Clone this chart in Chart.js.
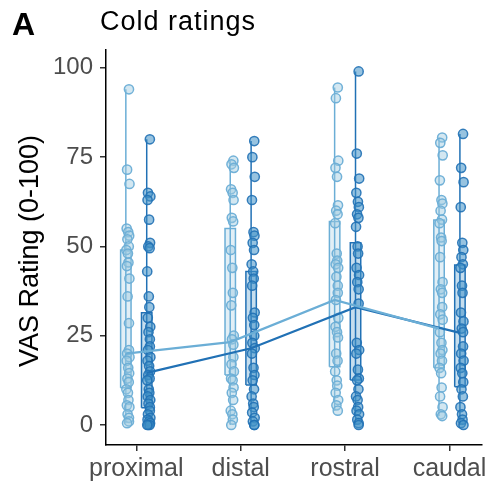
<!DOCTYPE html>
<html lang="en">
<head>
    <meta charset="UTF-8">
    <title>Cold ratings</title>
    <script src="https://cdn.jsdelivr.net/npm/chart.js"></script>
    <style>
        body {
            margin: 0;
            background: #ffffff;
        }
        #wrap {
            width: 490px;
            height: 490px;
        }
    </style>
</head>
<body>
    <div id="wrap">
        <canvas id="coldChart" width="490" height="490"></canvas>
    </div>

    <script>
        // categories and tick labels
        const regions = ["proximal", "distal", "rostral", "caudal"];
        const yTicks = [0, 25, 50, 75, 100];

        // raw ratings, light series (one list per region)
        const lightProximal = [94, 71.5, 67.5, 55, 54, 53, 52, 50, 49, 48, 45.5, 44.5, 41, 36, 28.5, 21, 20, 19, 18, 16, 14.5, 13, 12, 10, 9, 7, 5.5, 5, 3, 2, 1, 0.5];
        const lightDistal = [74, 73, 72, 66, 65, 63, 58, 57, 49, 44, 37, 33.5, 25, 24, 22.5, 19, 17, 15, 13, 12.5, 10.5, 9, 7, 4, 3, 1.5, 0];
        const lightRostral = [94.5, 91.5, 74, 72, 69.5, 61.5, 60, 59, 56.5, 48, 46, 45, 44, 41.5, 39, 37, 35, 30, 27.5, 26, 24.5, 20, 18, 15, 12.5, 11, 9, 7, 5.5, 4];
        const lightCaudal = [80.5, 79, 75.5, 68.5, 63, 62, 60, 57.5, 56.5, 52.5, 51.5, 47, 40, 38, 37, 33, 31, 29.5, 26, 23, 21, 20, 18, 16, 14.5, 10.5, 8, 5, 3, 2.5];

        // raw ratings, dark series
        const darkProximal = [80, 65, 64, 63, 57.5, 51, 50, 49.5, 43, 36, 33, 30, 27.5, 26, 24, 22, 21, 19, 18, 16.5, 15, 14, 13, 12.5, 10, 9, 8, 7, 6, 5, 4, 3, 2, 1.5, 1, 0.5, 0, 0, 0];
        const darkDistal = [79.5, 75, 69.5, 63, 54, 53, 51, 49, 45, 43, 41, 39, 31.5, 30, 28, 25, 23, 21.5, 20, 16, 14, 12.5, 10, 8, 6, 5, 3.5, 2, 1, 0, 0];
        const darkRostral = [99, 76, 69, 65, 62.5, 61, 59, 58, 55.5, 50, 48, 44, 42, 40, 38, 34, 23, 21, 20, 15.5, 13, 12.5, 10, 8, 7, 5, 4, 3, 1.5, 0.5, 0];
        const darkCaudal = [81.5, 72, 68, 61, 51, 49, 47, 45, 44, 39, 37, 31.5, 29, 27, 26, 22, 20, 18, 16, 14.5, 12, 10, 8, 5, 3, 1.5, 0.5, 0];

        // box statistics per region
        const lightLow = [0.5, 0, 4, 2.5];
        const lightQ1 = [10.4, 14, 16.3, 16];
        const lightMedian = [20, 23.2, 35, 27];
        const lightQ3 = [49, 55, 57, 57.4];
        const lightHigh = [94, 74, 94.5, 80.5];

        const darkLow = [0, 0, 0, 0];
        const darkQ1 = [4.8, 11.2, 12.6, 10.7];
        const darkMedian = [14.6, 21.5, 33, 25.8];
        const darkQ3 = [31.4, 43, 51, 44.8];
        const darkHigh = [80, 79.5, 99, 81.5];

        // small fixed horizontal jitter for the dots
        const jitter = [0.01, -0.008, 0.015, -0.012, 0.003, 0.012, -0.005, 0.008, -0.015, 0.0, 0.005, -0.01, 0.014, -0.003, 0.01];

        const LIGHT = "#6baed6";
        const DARK = "#2171b5";
        const FONT = "'Liberation Sans', Arial, sans-serif";

        const lightRaw = [lightProximal, lightDistal, lightRostral, lightCaudal];
        const darkRaw = [darkProximal, darkDistal, darkRostral, darkCaudal];

        function dots(groups, shift) {
            let pts = [];
            groups.forEach((vals, c) => {
                vals.forEach((v, i) => {
                    pts.push({ x: c + shift + 0.02 + jitter[i % jitter.length], y: v });
                });
            });
            return pts;
        }

        function whiskers(low, high, shift) {
            let pts = [];
            low.forEach((lo, c) => {
                pts.push({ x: c + shift, y: lo });
                pts.push({ x: c + shift, y: high[c] });
                pts.push({ x: c + shift, y: null });
            });
            return pts;
        }

        function boxes(q1, q3, shift, color, fill) {
            const w = 0.05;
            return q1.map((lo, c) => ({
                type: "line",
                data: [
                    { x: c + shift - w, y: lo },
                    { x: c + shift + w, y: lo },
                    { x: c + shift + w, y: q3[c] },
                    { x: c + shift - w, y: q3[c] },
                    { x: c + shift - w, y: lo }
                ],
                borderColor: color,
                backgroundColor: fill,
                borderWidth: 1.5,
                fill: "shape",
                pointRadius: 0,
                tension: 0,
                order: 3
            }));
        }

        function medianLine(med, shift) {
            return med.map((m, c) => ({ x: c + shift, y: m }));
        }

        const textPlugin = {
            id: "texts",
            afterDraw(chart) {
                const ctx = chart.ctx;
                ctx.save();
                ctx.fillStyle = "#000000";
                ctx.textBaseline = "alphabetic";
                ctx.textAlign = "left";
                ctx.font = "bold 32px " + FONT;
                ctx.fillText("A", 12, 35);
                ctx.font = "27px " + FONT;
                ctx.letterSpacing = "1px";
                ctx.fillText("Cold ratings", 100, 30);
                ctx.letterSpacing = "0px";

                ctx.translate(38, 251);
                ctx.rotate(-Math.PI / 2);
                ctx.textAlign = "center";
                ctx.font = "27px " + FONT;
                ctx.fillText("VAS Rating (0-100)", 0, 0);
                ctx.restore();
            }
        };

        const datasets = [
            {
                type: "line",
                data: medianLine(lightMedian, -0.1),
                borderColor: LIGHT,
                borderWidth: 2.2,
                pointRadius: 0,
                order: 0
            },
            {
                type: "line",
                data: medianLine(darkMedian, 0.1),
                borderColor: DARK,
                borderWidth: 2.2,
                pointRadius: 0,
                order: 0
            },
            {
                data: dots(lightRaw, -0.1),
                backgroundColor: "rgba(158, 202, 225, 0.45)",
                borderColor: "rgba(107, 174, 214, 0.95)",
                borderWidth: 1.5,
                pointRadius: 4.6,
                order: 1
            },
            {
                data: dots(darkRaw, 0.1),
                backgroundColor: "rgba(66, 146, 198, 0.55)",
                borderColor: "rgba(33, 113, 181, 0.9)",
                borderWidth: 1.5,
                pointRadius: 4.6,
                order: 1
            },
            {
                type: "line",
                data: whiskers(lightLow, lightHigh, -0.1),
                borderColor: LIGHT,
                borderWidth: 1.5,
                pointRadius: 0,
                spanGaps: false,
                order: 2
            },
            {
                type: "line",
                data: whiskers(darkLow, darkHigh, 0.1),
                borderColor: DARK,
                borderWidth: 1.5,
                pointRadius: 0,
                spanGaps: false,
                order: 2
            },
            ...boxes(lightQ1, lightQ3, -0.1, LIGHT, "rgba(158, 202, 225, 0.3)"),
            ...boxes(darkQ1, darkQ3, 0.1, DARK, "rgba(66, 146, 198, 0.3)")
        ];

        new Chart(document.getElementById("coldChart"), {
            type: "scatter",
            data: { datasets: datasets },
            options: {
                responsive: false,
                animation: false,
                events: [],
                layout: { padding: { top: 50, right: 8, left: 0, bottom: 0 } },
                plugins: {
                    legend: { display: false },
                    tooltip: { enabled: false }
                },
                scales: {
                    x: {
                        type: "linear",
                        min: -0.29,
                        max: 3.31,
                        afterBuildTicks: s => { s.ticks = regions.map((r, i) => ({ value: i })); },
                        afterFit: s => { s.height = 45; },
                        ticks: {
                            callback: v => regions[v],
                            color: "#4d4d4d",
                            font: { size: 25, family: FONT },
                            padding: 3,
                            maxRotation: 0,
                            autoSkip: false
                        },
                        grid: { drawOnChartArea: false, drawTicks: true, tickLength: 6, color: "#333333", lineWidth: 1.5 },
                        border: { display: true, color: "#000000", width: 1.5 }
                    },
                    y: {
                        min: -5.6,
                        max: 105,
                        afterBuildTicks: s => { s.ticks = yTicks.map(v => ({ value: v })); },
                        afterFit: s => { s.width = 106; },
                        ticks: {
                            color: "#4d4d4d",
                            font: { size: 24, family: FONT },
                            padding: 7
                        },
                        grid: { drawOnChartArea: false, drawTicks: true, tickLength: 6, color: "#333333", lineWidth: 1.5 },
                        border: { display: true, color: "#000000", width: 1.5 }
                    }
                }
            },
            plugins: [textPlugin]
        });
    </script>
</body>
</html>
